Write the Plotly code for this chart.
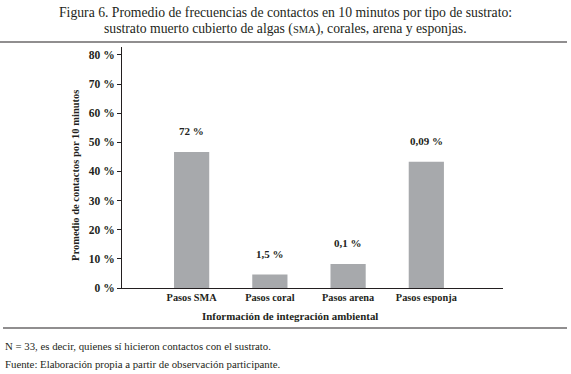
import plotly.graph_objects as go

categories = ["Pasos SMA", "Pasos coral", "Pasos arena", "Pasos esponja"]
values = [46.7, 4.6, 8.2, 43.3]
value_labels = ["72 %", "1,5 %", "0,1 %", "0,09 %"]
y_ticks = [0, 10, 20, 30, 40, 50, 60, 70, 80]

title_lines = [
    "Figura 6. Promedio de frecuencias de contactos en 10 minutos por tipo de sustrato:",
    "sustrato muerto cubierto de algas (<span style='font-size:10.5px'>SMA</span>), corales, arena y esponjas.",
]
y_title = "Promedio de contactos por 10 minutos"
x_title = "Información de integración ambiental"
notes = [
    "N = 33, es decir, quienes sí hicieron contactos con el sustrato.",
    "Fuente: Elaboración propia a partir de observación participante.",
]

FONT = "Liberation Serif, Times New Roman, serif"
INK = "#231f20"
BAR = "#a7a9ac"

W, H = 571, 374
# plot area in page pixels
PL, PR, PT, PB = 122, 503, 47, 288
L, R, T, B = PL, W - PR, PT, H - PB
pw, ph = PR - PL, PB - PT

def px(x):
    return (x - PL) / pw

def py(y):
    return (PB - y) / ph

fig = go.Figure(go.Bar(
    x=list(range(len(categories))), y=values, width=0.45,
    marker=dict(color=BAR, line=dict(width=0)),
    hoverinfo="skip",
))

annotations = []
for i, (v, lab) in enumerate(zip(values, value_labels)):
    annotations.append(dict(x=i, y=v, xref="x", yref="y", text="<b>" + lab + "</b>",
                            showarrow=False, yanchor="bottom", yshift=13,
                            font=dict(family=FONT, size=11, color=INK)))

for ypx, line in zip([12, 29], title_lines):
    annotations.append(dict(x=px(285), xref="paper", y=py(ypx), yref="paper",
                            text=line, showarrow=False, xanchor="center", yanchor="middle",
                            font=dict(family=FONT, size=13.7, color=INK)))

annotations.append(dict(x=px(75), y=py(176), xref="paper", yref="paper",
                        text="<b>" + y_title + "</b>", textangle=-90, showarrow=False,
                        xanchor="center", yanchor="middle",
                        font=dict(family=FONT, size=10.5, color=INK)))
annotations.append(dict(x=px(290), y=py(316), xref="paper", yref="paper",
                        text="<b>" + x_title + "</b>", showarrow=False,
                        xanchor="center", yanchor="middle",
                        font=dict(family=FONT, size=10.9, color=INK)))
for ypx, note in zip([346, 364], notes):
    annotations.append(dict(x=px(3), y=py(ypx), xref="paper", yref="paper",
                            text=note, showarrow=False, xanchor="left", yanchor="middle",
                            font=dict(family=FONT, size=10.8, color=INK)))

shapes = [
    dict(type="line", xref="paper", yref="paper", x0=px(0), x1=px(567), y0=py(42), y1=py(42),
         line=dict(color=INK, width=1.2)),
    dict(type="line", xref="paper", yref="paper", x0=px(3), x1=px(567), y0=py(328), y1=py(328),
         line=dict(color=INK, width=1.2)),
]

fig.update_layout(
    width=W, height=H,
    margin=dict(l=L, r=R, t=T, b=B, pad=0),
    paper_bgcolor="white", plot_bgcolor="white",
    showlegend=False,
    annotations=annotations,
    shapes=shapes,
)
fig.update_xaxes(
    range=[-0.89, 3.98], tickmode="array", tickvals=list(range(len(categories))),
    ticktext=["<b>" + c + "</b>" for c in categories],
    showline=True, linecolor=INK, linewidth=1, ticks="", showgrid=False, zeroline=False,
    tickfont=dict(family=FONT, size=10.3, color=INK),
)
fig.update_yaxes(
    range=[0, 82.7], tickmode="array", tickvals=y_ticks,
    ticktext=["<b>%d %%</b>" % t for t in y_ticks],
    showline=True, linecolor=INK, linewidth=1, ticks="outside", ticklen=4, tickcolor=INK,
    showgrid=False, zeroline=False,
    tickfont=dict(family=FONT, size=11.5, color=INK),
)

fig.write_html("out.html", config={"displayModeBar": False},
               post_script="document.body.style.margin='0px';")
